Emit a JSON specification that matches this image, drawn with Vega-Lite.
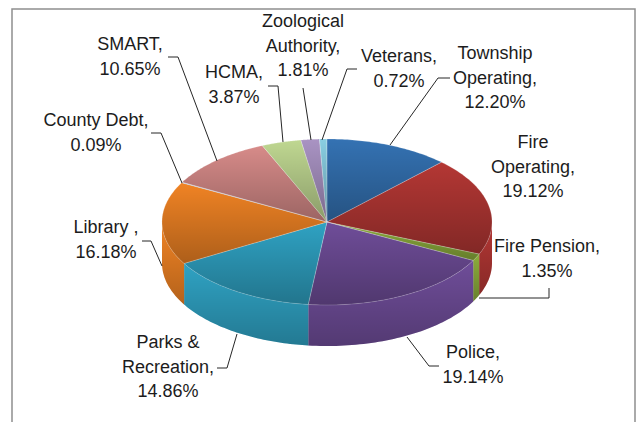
{
"$schema":"https://vega.github.io/schema/vega-lite/v6.json",
"width":639,"height":422,"padding":0,"autosize":{"type":"none"},
"background":"white",
"config":{"view":{"stroke":null}},
"datasets":{
"slices":[
{"idx":1,"slice":"Township Operating","share":12.20},
{"idx":2,"slice":"Fire Operating","share":19.12},
{"idx":3,"slice":"Fire Pension","share":1.35},
{"idx":4,"slice":"Police","share":19.14},
{"idx":5,"slice":"Parks & Recreation","share":14.86},
{"idx":6,"slice":"Library","share":16.18},
{"idx":7,"slice":"County Debt","share":0.09},
{"idx":8,"slice":"SMART","share":10.65},
{"idx":9,"slice":"HCMA","share":3.87},
{"idx":10,"slice":"Zoological Authority","share":1.81},
{"idx":11,"slice":"Veterans","share":0.72}
],
"labels":[
{"label":"Township\nOperating,\n12.20%","x":168,"y":168},
{"label":"Fire\nOperating,\n19.12%","x":206,"y":79},
{"label":"Fire Pension,\n1.35%","x":220,"y":-25},
{"label":"Police,\n19.14%","x":146,"y":-131},
{"label":"Parks &\nRecreation,\n14.86%","x":-159,"y":-121},
{"label":"Library ,\n16.18%","x":-221,"y":-6},
{"label":"County Debt,\n0.09%","x":-231,"y":101},
{"label":"SMART,\n10.65%","x":-197,"y":177},
{"label":"HCMA,\n3.87%","x":-93,"y":149},
{"label":"Zoological\nAuthority,\n1.81%","x":-24,"y":200},
{"label":"Veterans,\n0.72%","x":72,"y":165}
],
"leaders":[
{"slice":"Zoological Authority","n":1,"x":-24,"y":134},{"slice":"Zoological Authority","n":2,"x":-16,"y":82},
{"slice":"Veterans","n":1,"x":30,"y":153},{"slice":"Veterans","n":2,"x":20,"y":153},{"slice":"Veterans","n":3,"x":-5,"y":82},
{"slice":"Township Operating","n":1,"x":123,"y":144},{"slice":"Township Operating","n":2,"x":111,"y":144},{"slice":"Township Operating","n":3,"x":63,"y":77},
{"slice":"HCMA","n":1,"x":-59,"y":136},{"slice":"HCMA","n":2,"x":-49,"y":136},{"slice":"HCMA","n":3,"x":-44,"y":80},
{"slice":"SMART","n":1,"x":-159,"y":165},{"slice":"SMART","n":2,"x":-149,"y":165},{"slice":"SMART","n":3,"x":-110,"y":61},
{"slice":"County Debt","n":1,"x":-176,"y":89},{"slice":"County Debt","n":2,"x":-166,"y":89},{"slice":"County Debt","n":3,"x":-145,"y":39},
{"slice":"Library","n":1,"x":-185,"y":-19},{"slice":"Library","n":2,"x":-176,"y":-19},{"slice":"Library","n":3,"x":-165,"y":-44},
{"slice":"Parks & Recreation","n":1,"x":-110,"y":-146},{"slice":"Parks & Recreation","n":2,"x":-100,"y":-146},{"slice":"Parks & Recreation","n":3,"x":-90,"y":-112},
{"slice":"Police","n":1,"x":80,"y":-115},{"slice":"Police","n":2,"x":102,"y":-144},{"slice":"Police","n":3,"x":112,"y":-144},
{"slice":"Fire Pension","n":1,"x":152,"y":-76},{"slice":"Fire Pension","n":2,"x":222,"y":-76},{"slice":"Fire Pension","n":3,"x":222,"y":-66}
],
"frame":[
{"n":1,"x":-315,"y":-200},{"n":2,"x":-315,"y":213},{"n":3,"x":308,"y":213},{"n":4,"x":308,"y":-200}
]
},
"layer":[
{
"data":{"name":"frame"},
"mark":{"type":"line","color":"#8f8f8f","strokeWidth":1.5,"interpolate":"linear"},
"encoding":{
"x":{"field":"x","type":"quantitative","scale":{"domain":[-327,312],"nice":false,"zero":false},"axis":null},
"y":{"field":"y","type":"quantitative","scale":{"domain":[-200,222],"nice":false,"zero":false},"axis":null},
"order":{"field":"n"}
}
},
{
"data":{"name":"slices"},
"transform":[
{"window":[{"op":"sum","field":"share","as":"cum"}],"sort":[{"field":"idx"}]},
{"calculate":"sequence(0,1.001,0.02)","as":"t"},
{"flatten":["t"]},
{"calculate":"clamp((datum.cum-datum.share+datum.t*datum.share)*3.6*PI/180,PI/2,3*PI/2)","as":"a"},
{"calculate":"165*sin(datum.a)","as":"px"},
{"calculate":"83*cos(datum.a)","as":"py"},
{"calculate":"datum.py-41","as":"py2"},
{"filter":"datum.cum*3.6>90 && (datum.cum-datum.share)*3.6<270"}
],
"encoding":{
"x":{"field":"px","type":"quantitative","axis":null},
"y":{"field":"py","type":"quantitative","axis":null},
"y2":{"field":"py2"},
"detail":{"field":"slice"}
},
"layer":[
{"mark":{"type":"area","orient":"vertical","interpolate":"linear"},
"encoding":{"fill":{"field":"slice","type":"nominal","legend":null,"scale":{"domain":["Township Operating","Fire Operating","Fire Pension","Police","Parks & Recreation","Library","County Debt","SMART","HCMA","Zoological Authority","Veterans"],
"range":["#3472B3","#B43734","#8CAC3C","#6F4D99","#2FA2C3","#F08324","#85A5D5","#D78B89","#BFD791","#A993C3","#89CEE2"]}}}},
{"mark":{"type":"area","orient":"vertical","interpolate":"linear","fill":{"gradient":"linear","x1":0,"y1":0,"x2":0,"y2":1,"stops":[{"offset":0,"color":"rgba(0,0,0,0)"},{"offset":1,"color":"rgba(0,0,0,0.25)"}]}}}
]
},
{
"data":{"name":"slices"},
"transform":[
{"window":[{"op":"sum","field":"share","as":"cum"}],"sort":[{"field":"idx"}]},
{"calculate":"sequence(-0.02,1.001,0.02)","as":"t"},
{"flatten":["t"]},
{"calculate":"(datum.cum-datum.share+datum.t*datum.share)*3.6*PI/180","as":"a"},
{"calculate":"datum.t<0?0:165*sin(datum.a)","as":"px"},
{"calculate":"datum.t<0?0:83*cos(datum.a)","as":"py"}
],
"encoding":{
"x":{"field":"px","type":"quantitative","axis":null},
"y":{"field":"py","type":"quantitative","axis":null},
"detail":{"field":"slice"},
"order":{"field":"t"}
},
"layer":[
{"mark":{"type":"line","filled":true,"interpolate":"linear-closed","strokeWidth":0},
"encoding":{"fill":{"field":"slice","type":"nominal","legend":null}}},
{"mark":{"type":"line","filled":true,"interpolate":"linear-closed","stroke":"#ffffff","strokeOpacity":0.3,"strokeWidth":0.6,"fill":{"gradient":"linear","x1":0,"y1":0,"x2":0,"y2":1,"stops":[{"offset":0,"color":"rgba(0,0,0,0)"},{"offset":1,"color":"rgba(0,0,0,0.28)"}]}}}
]
},
{
"data":{"name":"leaders"},
"mark":{"type":"line","color":"#262626","strokeWidth":1,"interpolate":"linear"},
"encoding":{
"x":{"field":"x","type":"quantitative","axis":null},
"y":{"field":"y","type":"quantitative","axis":null},
"detail":{"field":"slice"},
"order":{"field":"n"}
}
},
{
"data":{"name":"labels"},
"mark":{"type":"text","font":"Liberation Sans","fontSize":18,"lineHeight":24.5,"lineBreak":"\n","color":"#1c1c1c","align":"center","baseline":"middle"},
"encoding":{
"x":{"field":"x","type":"quantitative","axis":null},
"y":{"field":"y","type":"quantitative","axis":null},
"text":{"field":"label"}
}
}
]
}
